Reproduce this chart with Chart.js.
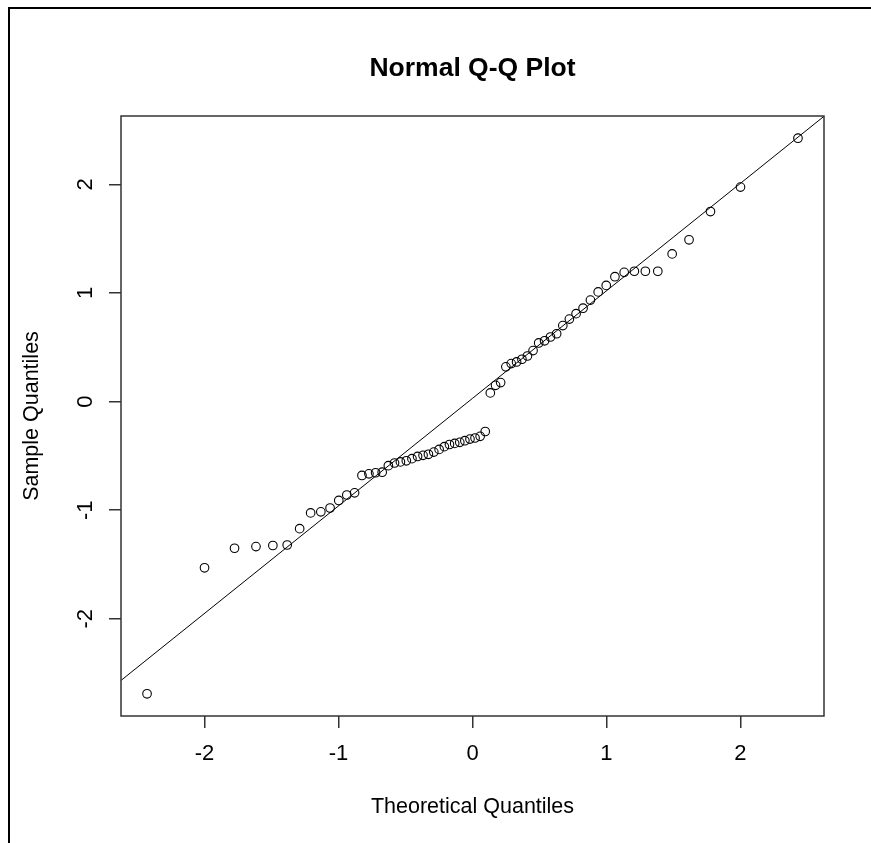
<!DOCTYPE html>
<html>
<head>
<meta charset="utf-8">
<title>Normal Q-Q Plot</title>
<script src="https://cdn.jsdelivr.net/npm/chart.js@4/dist/chart.umd.min.js"></script>
<style>
  html, body { margin: 0; padding: 0; background: #fff; }
  #wrap { width: 871px; height: 843px; }
</style>
</head>
<body>
<div id="wrap"><canvas id="qq" width="871" height="843"></canvas></div>
<script>
// theoretical quantiles (x) and sorted sample quantiles (y)
const theoreticalQuantiles = [
  -2.429, -2.000, -1.776, -1.616, -1.490, -1.383, -1.290, -1.208, -1.132, -1.063,
  -0.998, -0.938, -0.880, -0.825, -0.773, -0.723, -0.674, -0.628, -0.582, -0.538,
  -0.494, -0.452, -0.410, -0.369, -0.329, -0.289, -0.249, -0.210, -0.172, -0.133,
  -0.095, -0.057, -0.019, 0.019, 0.057, 0.095, 0.133, 0.172, 0.210, 0.249,
  0.289, 0.329, 0.369, 0.410, 0.452, 0.494, 0.538, 0.582, 0.628, 0.674,
  0.723, 0.773, 0.825, 0.880, 0.938, 0.998, 1.063, 1.132, 1.208, 1.290,
  1.383, 1.490, 1.616, 1.776, 2.000, 2.429
];
const sampleQuantiles = [
  -2.69, -1.53, -1.35, -1.335, -1.325, -1.32, -1.17, -1.025, -1.015, -0.98,
  -0.91, -0.86, -0.84, -0.68, -0.665, -0.655, -0.65, -0.59, -0.565, -0.555,
  -0.545, -0.525, -0.505, -0.495, -0.485, -0.465, -0.44, -0.415, -0.395, -0.385,
  -0.375, -0.36, -0.345, -0.335, -0.32, -0.275, 0.08, 0.15, 0.175, 0.32,
  0.35, 0.365, 0.39, 0.42, 0.47, 0.54, 0.56, 0.595, 0.625, 0.70,
  0.76, 0.81, 0.86, 0.935, 1.01, 1.07, 1.15, 1.19, 1.20, 1.20,
  1.20, 1.36, 1.49, 1.75, 1.975, 2.425
];
const xTickValues = [-2, -1, 0, 1, 2];
const yTickValues = [-2, -1, 0, 1, 2];

// reference line (qqline)
const lineIntercept = 0.03;
const lineSlope = 0.99;

const FONT = "'Liberation Sans', Arial, sans-serif";

// R-style axis limits: data range widened by 4% on each side
function rLimits(vals) {
  const lo = Math.min(...vals), hi = Math.max(...vals);
  const pad = (hi - lo) * 0.04;
  return [lo - pad, hi + pad];
}
const [xMin, xMax] = rLimits(theoreticalQuantiles);
const [yMin, yMax] = rLimits(sampleQuantiles);

const points = theoreticalQuantiles.map((x, i) => ({ x: x, y: sampleQuantiles[i] }));
const lineEnds = [xMin, xMax].map(x => ({ x: x, y: lineIntercept + lineSlope * x }));

// box around the plot region plus the outer frame of the picture
const framePlugin = {
  id: "frame",
  afterDraw(chart) {
    const { ctx, chartArea: a } = chart;
    ctx.save();
    ctx.strokeStyle = "#333";
    ctx.lineWidth = 1.5;
    ctx.strokeRect(a.left, a.top, a.right - a.left, a.bottom - a.top);
    ctx.strokeStyle = "#000";
    ctx.lineWidth = 2;
    ctx.beginPath();
    ctx.moveTo(9, chart.height);
    ctx.lineTo(9, 8);
    ctx.lineTo(chart.width, 8);
    ctx.stroke();
    ctx.restore();
  }
};

new Chart(document.getElementById("qq"), {
  type: "scatter",
  data: {
    datasets: [
      {
        label: "sample",
        data: points,
        pointStyle: "circle",
        pointRadius: 4.3,
        pointBorderWidth: 1.1,
        pointBorderColor: "#000",
        pointBackgroundColor: "rgba(0,0,0,0)"
      },
      {
        label: "qqline",
        data: lineEnds,
        showLine: true,
        pointRadius: 0,
        borderColor: "#000",
        borderWidth: 1
      }
    ]
  },
  options: {
    responsive: false,
    devicePixelRatio: 1,
    animation: false,
    layout: { padding: { left: 0, right: 47, top: 0, bottom: 0 } },
    plugins: {
      legend: { display: false },
      tooltip: { enabled: false },
      title: {
        display: true,
        text: "Normal Q-Q Plot",
        fullSize: false,
        color: "#000",
        font: { family: FONT, size: 26.5, weight: "bold" },
        padding: { top: 53, bottom: 31.2 }
      }
    },
    scales: {
      x: {
        type: "linear",
        min: xMin,
        max: xMax,
        afterFit(scale) { scale.height = 127; },
        afterBuildTicks(scale) { scale.ticks = xTickValues.map(v => ({ value: v })); },
        grid: { drawOnChartArea: false, drawTicks: true, tickLength: 12, color: "#333", lineWidth: 1.5 },
        border: { display: false },
        ticks: { color: "#000", font: { family: FONT, size: 22 }, padding: 13 },
        title: {
          display: true,
          text: "Theoretical Quantiles",
          color: "#000",
          font: { family: FONT, size: 21.5 },
          padding: { top: 0, bottom: 23 }
        }
      },
      y: {
        type: "linear",
        min: yMin,
        max: yMax,
        afterFit(scale) { scale.width = 121; },
        afterBuildTicks(scale) { scale.ticks = yTickValues.map(v => ({ value: v })); },
        grid: { drawOnChartArea: false, drawTicks: true, tickLength: 12, color: "#333", lineWidth: 1.5 },
        border: { display: false },
        ticks: {
          color: "#000",
          font: { family: FONT, size: 22 },
          minRotation: 90,
          maxRotation: 90,
          crossAlign: "center",
          padding: 13
        },
        title: {
          display: true,
          text: "Sample Quantiles",
          color: "#000",
          font: { family: FONT, size: 21.5 },
          padding: { top: 19, bottom: 0 }
        }
      }
    }
  },
  plugins: [framePlugin]
});
</script>
</body>
</html>
